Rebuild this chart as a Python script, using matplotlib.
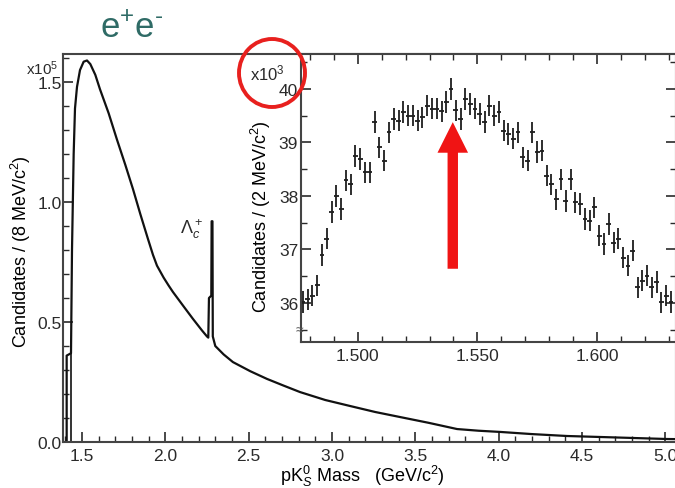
import matplotlib
matplotlib.use("Agg")
import matplotlib.pyplot as plt
import numpy as np
from matplotlib.patches import Ellipse
from matplotlib.ticker import MultipleLocator, FormatStrFormatter

plt.rcParams['font.family'] = ['Liberation Sans', 'DejaVu Sans']
plt.rcParams['mathtext.fontset'] = 'custom'
plt.rcParams['mathtext.rm'] = 'Liberation Sans'
plt.rcParams['mathtext.it'] = 'Liberation Sans:italic'
plt.rcParams['text.color'] = '#2a2a2a'
plt.rcParams['xtick.color'] = '#2a2a2a'
plt.rcParams['ytick.color'] = '#2a2a2a'

# full pK0s mass spectrum, candidates in units of 1e5 per 8 MeV
mass = [1.408, 1.408, 1.434, 1.440, 1.450, 1.458, 1.470, 1.488, 1.510, 1.530,
        1.550, 1.580, 1.608, 1.660, 1.710, 1.760, 1.806, 1.850, 1.896, 1.926,
        1.950, 1.990, 2.020, 2.046, 2.110, 2.166, 2.220, 2.250, 2.258, 2.262,
        2.276, 2.278, 2.283, 2.285, 2.300, 2.350, 2.406, 2.510, 2.610, 2.710,
        2.809, 2.960, 3.109, 3.260, 3.409, 3.580, 3.751, 3.880, 4.009, 4.200,
        4.411, 4.700, 5.010, 5.065]
cand = [0.0, 0.36, 0.37, 0.80, 1.20, 1.39, 1.48, 1.55, 1.585, 1.59,
        1.575, 1.53, 1.47, 1.37, 1.26, 1.155, 1.054, 0.95, 0.846, 0.78,
        0.735, 0.685, 0.652, 0.625, 0.565, 0.513, 0.465, 0.44, 0.435, 0.60,
        0.61, 0.92, 0.92, 0.44, 0.40, 0.365, 0.333, 0.295, 0.263, 0.235,
        0.208, 0.175, 0.15, 0.125, 0.104, 0.08, 0.054, 0.047, 0.042, 0.033,
        0.025, 0.019, 0.0125, 0.012]

# zoom on 1.54 region, 2 MeV bins, candidates in units of 1e3
bin_lo = 1.477
bin_w = 0.002
zoom_cand = [36.02, 36.07, 36.14, 36.33, 36.90, 37.20, 37.70, 38.00, 37.76, 38.29,
             38.22, 38.75, 38.69, 38.44, 38.44, 39.38, 38.91, 38.66, 39.19, 39.44,
             39.41, 39.57, 39.50, 39.50, 39.41, 39.47, 39.69, 39.63, 39.63, 39.58,
             39.76, 40.00, 39.60, 39.44, 39.81, 39.72, 39.63, 39.53, 39.38, 39.69,
             39.50, 39.57, 39.22, 39.16, 39.07, 39.19, 38.72, 38.66, 39.19, 38.82,
             38.85, 38.38, 38.22, 37.94, 38.31, 37.91, 38.31, 37.88, 37.85, 37.57,
             37.54, 37.79, 37.26, 37.10, 37.48, 37.13, 37.20, 36.85, 36.70, 36.98,
             36.29, 36.42, 36.51, 36.29, 36.39, 36.01, 36.14, 36.02]
zoom_err = 0.2
zoom_mass = bin_lo + bin_w * np.arange(len(zoom_cand))

arrow_mass = 1.5397
arrow_from, arrow_to = 36.64, 39.38

W, H = 675, 489
fig = plt.figure(figsize=(W / 100, H / 100), dpi=100)

# main spectrum
ax = fig.add_axes([63 / W, (H - 443) / H, 613 / W, 388 / H])
ax.plot(mass, cand, '-', color='#111111', lw=1.6)
ax.plot([1.434, 1.434], [0.0, 0.37], '-', color='#111111', lw=1.2)
ax.set_xlim(1.386, 5.065)
ax.set_ylim(0, 1.617)
ax.xaxis.set_major_locator(MultipleLocator(0.5))
ax.xaxis.set_minor_locator(MultipleLocator(0.1))
ax.yaxis.set_major_locator(MultipleLocator(0.5))
ax.yaxis.set_minor_locator(MultipleLocator(0.1))
ax.xaxis.set_major_formatter(FormatStrFormatter('%.1f'))
ax.yaxis.set_major_formatter(FormatStrFormatter('%.1f'))
ax.tick_params(which='both', direction='in', labelsize=12.5)
ax.tick_params(which='major', length=7, width=1.2)
ax.tick_params(which='minor', length=4, width=1.0)
ax.tick_params(axis='y', pad=1)
ax.tick_params(axis='x', pad=4)
for s in ax.spines.values():
    s.set_linewidth(1.5)
    s.set_color('#444444')
ax.set_xlabel(r'pK$^0_S$ Mass   (GeV/c$^2$)', fontsize=13)
ax.xaxis.set_label_coords((362 - 63) / 613, (443 - 464) / 388)
ax.set_ylabel(r'Candidates / (8 MeV/c$^2$)', fontsize=13)
ax.yaxis.set_label_coords((33 - 63) / 613, (443 - 252) / 388)
ax.text(2.16, 0.89, r'$\Lambda_c^+$', fontsize=13, ha='center', va='center')
fig.text(58 / W, 1 - 69 / H, r'x10$^5$', fontsize=11, ha='right', va='center')

# inset around 1.54
axi = fig.add_axes([301 / W, (H - 343) / H, 375 / W, 288 / H])
axi.errorbar(zoom_mass, zoom_cand, yerr=zoom_err, xerr=bin_w / 2, fmt='none',
             ecolor='#1e1e1e', elinewidth=1.3)
axi.set_xlim(1.4762, 1.6331)
axi.set_ylim(35.271, 40.654)
axi.xaxis.set_major_locator(MultipleLocator(0.05))
axi.xaxis.set_minor_locator(MultipleLocator(0.01))
axi.yaxis.set_major_locator(MultipleLocator(1))
axi.yaxis.set_minor_locator(MultipleLocator(0.5))
axi.xaxis.set_major_formatter(FormatStrFormatter('%.3f'))
axi.yaxis.set_major_formatter(FormatStrFormatter('%d'))
axi.tick_params(which='both', direction='in', top=True, right=True, labelsize=12.5)
axi.tick_params(which='major', length=7, width=1.2)
axi.tick_params(which='minor', length=4, width=1.0)
axi.tick_params(axis='y', pad=2)
axi.tick_params(axis='x', pad=4)
for s in axi.spines.values():
    s.set_linewidth(1.5)
    s.set_color('#444444')
axi.set_ylabel(r'Candidates / (2 MeV/c$^2$)', fontsize=13)
axi.yaxis.set_label_coords((273 - 301) / 375, (343 - 217) / 288)
axi.text(-0.004, 0.045, '≈', transform=axi.transAxes, fontsize=10,
         ha='center', va='center', color='#555555')
fig.text(285 / W, 1 - 73 / H, r'x10$^3$', fontsize=12, ha='right', va='center')

axi.annotate('', xy=(arrow_mass, arrow_to), xytext=(arrow_mass, arrow_from),
             arrowprops=dict(arrowstyle='simple,head_length=2.2,head_width=2.2,tail_width=0.75',
                             mutation_scale=10, color='#f01414', lw=0,
                             shrinkA=0, shrinkB=0))

# red highlight ring and heading
fig.add_artist(Ellipse((272 / W, 1 - 74 / H), 66 / W, 68 / H, fill=False,
                       edgecolor='#e8201e', lw=2.8, transform=fig.transFigure))
fig.text(100 / W, 1 - 38 / H, r'e$^{+}$e$^{\text{-}}$', fontsize=25, color='#2f6b66',
         ha='left', va='baseline')

fig.savefig('out.png', dpi=100)
